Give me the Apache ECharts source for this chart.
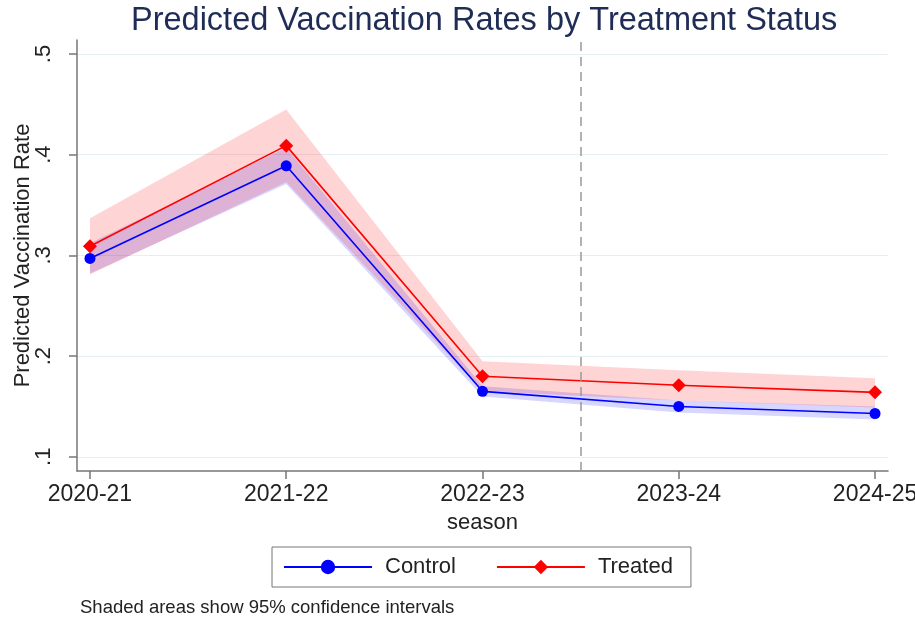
<!DOCTYPE html>
<html>
<head>
<meta charset="utf-8">
<script src="https://cdn.jsdelivr.net/npm/echarts@6/dist/echarts.min.js"></script>
<style>html,body{margin:0;padding:0;background:#fff}#c{width:915px;height:622px}</style>
</head>
<body>
<div id="c"></div>
<script>
var seasons = ['2020-21', '2021-22', '2022-23', '2023-24', '2024-25'];
var controlRate = [0.297, 0.389, 0.165, 0.150, 0.143];
var controlLower = [0.282, 0.371, 0.160, 0.144, 0.137];
var controlUpper = [0.312, 0.407, 0.170, 0.156, 0.150];
var treatedRate = [0.309, 0.409, 0.180, 0.171, 0.164];
var treatedLower = [0.281, 0.373, 0.165, 0.156, 0.149];
var treatedUpper = [0.337, 0.445, 0.195, 0.186, 0.178];
var yTicks = [0.1, 0.2, 0.3, 0.4, 0.5];
var yTickLabels = ['.1', '.2', '.3', '.4', '.5'];
var policyLine = 2.5;

function pts(arr) { return arr.map(function (v, i) { return [i, v]; }); }

var FONT = 'Liberation Sans, Arial, Helvetica, sans-serif';
var chart = echarts.init(document.getElementById('c'), null, { renderer: 'canvas' });
var xIdx = seasons.map(function (s, i) { return i; });

function bandSeries(name, lower, upper, color) {
  var data = lower.map(function (v, i) { return [i, v, upper[i]]; });
  return {
    name: name, type: 'custom', silent: true, z: 1,
    data: data,
    encode: { x: 0, y: [1, 2] },
    renderItem: function (params, api) {
      if (params.dataIndex !== 0) return null;
      var top = [], bot = [];
      for (var i = 0; i < data.length; i++) {
        top.push(api.coord([data[i][0], data[i][2]]));
        bot.push(api.coord([data[i][0], data[i][1]]));
      }
      var poly = top.concat(bot.reverse());
      return {
        type: 'polygon',
        shape: { points: poly },
        style: { fill: color, stroke: null }
      };
    }
  };
}

chart.setOption({
  animation: false,
  backgroundColor: '#fff',
  title: {
    text: 'Predicted Vaccination Rates by Treatment Status',
    left: 126, top: 0,
    textStyle: { fontFamily: FONT, fontSize: 32.5, fontWeight: 'normal', color: '#1f2d56' }
  },
  grid: { left: 77, right: 27, top: 40, bottom: 151, containLabel: false, outerBoundsMode: 'none' },
  legend: {
    data: ['Control', 'Treated'],
    left: 272, top: 547,
    padding: [9, 18, 9, 11],
    borderColor: '#777', borderWidth: 1,
    itemWidth: 88, itemHeight: 18, itemGap: 40,
    textStyle: { fontFamily: FONT, fontSize: 22, color: '#222', padding: [0, 0, 0, 8] }
  },
  graphic: [{
    type: 'text', left: 80, top: 598,
    style: { text: 'Shaded areas show 95% confidence intervals', font: '18.5px ' + FONT, fill: '#222' }
  }],
  xAxis: {
    type: 'value', min: -0.066, max: 4.066,
    name: 'season', nameLocation: 'middle', nameGap: 41,
    nameTextStyle: { fontFamily: FONT, fontSize: 22, color: '#222' },
    axisLine: { show: true, onZero: false, lineStyle: { color: '#777', width: 1.5 } },
    axisTick: { show: true, length: 8, customValues: xIdx, lineStyle: { color: '#777', width: 1.5 } },
    axisLabel: {
      customValues: xIdx, margin: 12,
      fontFamily: FONT, fontSize: 23, color: '#222',
      formatter: function (v) { return seasons[Math.round(v)]; }
    },
    splitLine: { show: false }
  },
  yAxis: {
    type: 'value', min: 0.0859, max: 0.5139,
    name: 'Predicted Vaccination Rate', nameLocation: 'middle', nameGap: 43,
    nameMoveOverlap: false,
    nameTextStyle: { fontFamily: FONT, fontSize: 22, color: '#222' },
    axisLine: { show: true, onZero: false, lineStyle: { color: '#777', width: 1.5 } },
    axisTick: { show: true, length: 8, customValues: yTicks, lineStyle: { color: '#777', width: 1.5 } },
    axisLabel: {
      customValues: yTicks, rotate: 90, margin: 22,
      fontFamily: FONT, fontSize: 22, color: '#222',
      formatter: function (v) {
        var i = yTicks.findIndex(function (t) { return Math.abs(t - v) < 1e-6; });
        return i >= 0 ? yTickLabels[i] : '';
      }
    },
    splitLine: { show: true, lineStyle: { color: '#e6eff1', width: 1.2 } }
  },
  series: [
    bandSeries('ctrlBand', controlLower, controlUpper, 'rgba(0,0,255,0.16)'),
    bandSeries('trtBand', treatedLower, treatedUpper, 'rgba(255,0,0,0.17)'),
    {
      name: 'Control', type: 'line', data: pts(controlRate), z: 3,
      symbol: 'circle', symbolSize: 11,
      itemStyle: { color: '#0000ff' }, lineStyle: { color: '#0000ff', width: 1.6 },
      markLine: {
        silent: true, symbol: ['none', 'none'], label: { show: false },
        lineStyle: { color: '#999', type: [9, 6], width: 1.5 },
        data: [{ xAxis: policyLine }]
      }
    },
    {
      name: 'Treated', type: 'line', data: pts(treatedRate), z: 4,
      symbol: 'diamond', symbolSize: [14, 14],
      itemStyle: { color: '#ff0000' }, lineStyle: { color: '#ff0000', width: 1.6 }
    }
  ]
});
</script>
</body>
</html>
